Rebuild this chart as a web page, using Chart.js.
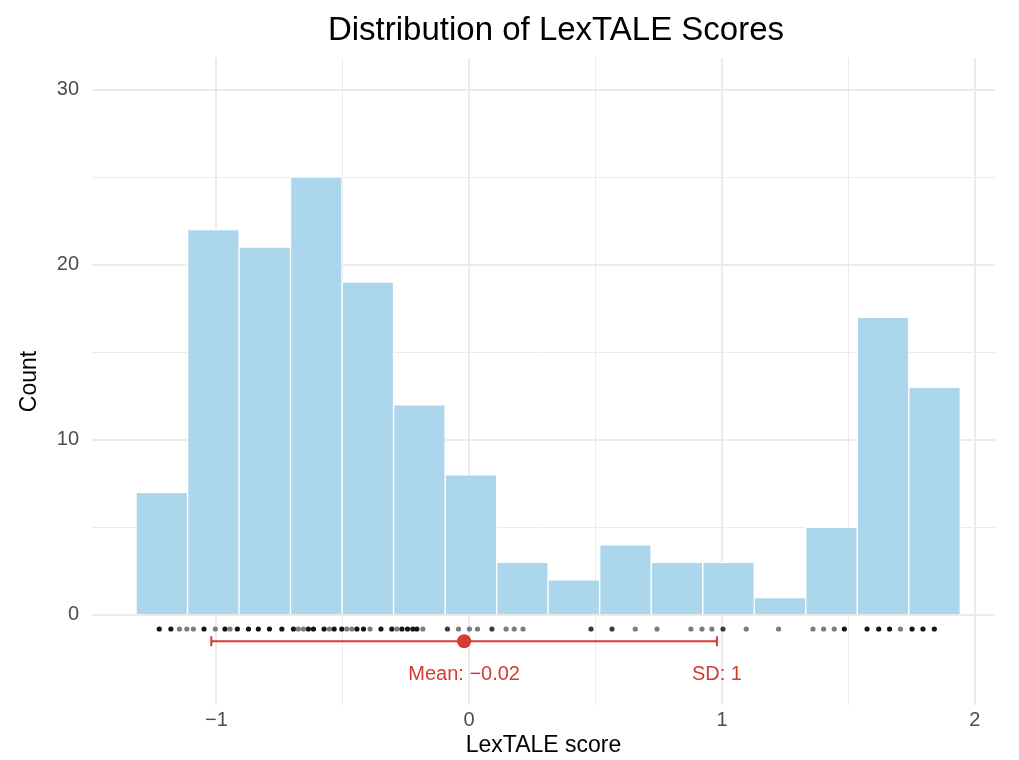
<!DOCTYPE html>
<html>
<head>
<meta charset="utf-8">
<title>Distribution of LexTALE Scores</title>
<script src="https://cdn.jsdelivr.net/npm/chart.js@4"></script>
<style>
  html, body { margin: 0; padding: 0; background: #ffffff; }
  #wrap { width: 1019px; height: 760px; }
</style>
</head>
<body>
<div id="wrap"><canvas id="chart" width="1019" height="760"></canvas></div>
<script>
// Histogram bin edges (standardised LexTALE score) and counts per bin
const binEdges = [-1.318, -1.114, -0.910, -0.707, -0.503, -0.299, -0.095, 0.109, 0.312,
                  0.516, 0.720, 0.924, 1.128, 1.331, 1.535, 1.739, 1.943];
const binCounts = [7, 22, 21, 25, 19, 12, 8, 3, 2, 4, 3, 3, 1, 5, 17, 13];

// Rug: distinct observed scores and how many participants share each score
const rugX = [-1.226, -1.180, -1.146, -1.117, -1.091, -1.049, -1.004, -0.966, -0.946, -0.917,
              -0.873, -0.834, -0.790, -0.741, -0.695, -0.676, -0.656, -0.636, -0.616, -0.574,
              -0.553, -0.534, -0.504, -0.484, -0.464, -0.444, -0.418, -0.392, -0.349, -0.306,
              -0.286, -0.266, -0.244, -0.223, -0.207, -0.183, -0.086, -0.042, 0.001, 0.033,
              0.090, 0.146, 0.178, 0.213, 0.482, 0.565, 0.657, 0.743, 0.877, 0.921,
              0.960, 1.004, 1.096, 1.224, 1.360, 1.402, 1.444, 1.484, 1.574, 1.620,
              1.663, 1.706, 1.752, 1.795, 1.840];
const rugN = [3, 3, 1, 1, 1, 3, 1, 3, 1, 3,
              3, 3, 3, 3, 3, 1, 1, 3, 3, 3,
              1, 3, 3, 1, 1, 3, 3, 1, 3, 3,
              1, 3, 3, 3, 3, 1, 2, 1, 1, 1,
              2, 1, 1, 1, 2, 2, 1, 1, 1, 1,
              1, 2, 1, 1, 1, 1, 1, 3, 3, 3,
              3, 1, 3, 3, 3];

// Summary statistics
const meanScore = -0.02;
const sdScore = 1.00;

// Axis ticks (major every 1 / 10, minor halfway)
const xTicks = [-1, -0.5, 0, 0.5, 1, 1.5, 2];
const yTicks = [0, 5, 10, 15, 20, 25, 30];

// Rows (in count units) for the rug, the mean/SD bar and its labels
const rugRow = -0.8;
const statRow = -1.5;
const labelRow = -3.4;

const RED = '#d43b31';
const TEXT = '#4d4d4d';
const FONT = "'Liberation Sans', Arial, Helvetica, sans-serif";

const fmt = v => String(v).replace('-', '\u2212');

const barData = binCounts.map((c, i) => ({ x: (binEdges[i] + binEdges[i + 1]) / 2, y: c }));
const rugData = rugX.map(x => ({ x: x, y: rugRow }));

const statLabels = {
  id: 'statLabels',
  afterDatasetsDraw(chart) {
    const { ctx, scales } = chart;
    const yPix = scales.y.getPixelForValue(labelRow);
    ctx.save();
    ctx.fillStyle = RED;
    ctx.font = "20px " + FONT;
    ctx.textAlign = 'center';
    ctx.textBaseline = 'middle';
    ctx.fillText('Mean: ' + fmt(meanScore.toFixed(2)), scales.x.getPixelForValue(meanScore), yPix);
    ctx.fillText('SD: ' + fmt(Math.round(sdScore)), scales.x.getPixelForValue(meanScore + sdScore), yPix);
    ctx.restore();
  }
};

const plotTitle = {
  id: 'plotTitle',
  afterDraw(chart) {
    const { ctx } = chart;
    ctx.save();
    ctx.fillStyle = '#000000';
    ctx.font = "33px " + FONT;
    ctx.textAlign = 'center';
    ctx.textBaseline = 'middle';
    ctx.fillText('Distribution of LexTALE Scores', 556, 31);
    ctx.restore();
  }
};

new Chart(document.getElementById('chart'), {
  type: 'bar',
  data: {
    datasets: [
      {
        type: 'scatter',
        label: 'Mean',
        data: [{ x: meanScore, y: statRow }],
        pointRadius: 7,
        pointBackgroundColor: RED,
        pointBorderColor: RED,
        pointBorderWidth: 0,
        order: 1
      },
      {
        type: 'line',
        label: 'SD',
        data: [{ x: meanScore - sdScore, y: statRow }, { x: meanScore + sdScore, y: statRow }],
        borderColor: RED,
        borderWidth: 2,
        pointStyle: 'line',
        pointRotation: 90,
        pointRadius: 5,
        pointBorderColor: RED,
        pointBorderWidth: 2,
        fill: false,
        order: 2
      },
      {
        type: 'scatter',
        label: 'Scores',
        data: rugData,
        pointRadius: 2.6,
        pointBorderWidth: 0,
        pointBackgroundColor: ctx => {
          const n = rugN[ctx.dataIndex];
          return n >= 3 ? '#141414' : (n === 2 ? '#3a3a3a' : '#7c7c7c');
        },
        order: 3
      },
      {
        type: 'bar',
        label: 'Count',
        data: barData,
        backgroundColor: '#acd6ec',
        borderColor: '#ffffff',
        borderWidth: 1,
        borderSkipped: 'start',
        barPercentage: 1,
        categoryPercentage: 1,
        order: 4
      }
    ]
  },
  options: {
    responsive: false,
    animation: false,
    layout: { padding: { left: 10, top: 58, right: 24, bottom: 0 } },
    plugins: {
      legend: { display: false },
      tooltip: { enabled: false },
      title: { display: false }
    },
    scales: {
      x: {
        type: 'linear',
        min: -1.492,
        max: 2.08,
        offset: false,
        afterFit: s => { s.height = 55; },
        afterBuildTicks: s => { s.ticks = xTicks.map(v => ({ value: v })); },
        border: { display: false },
        grid: {
          offset: false,
          drawTicks: false,
          color: '#ebebeb',
          lineWidth: c => (c.tick && Number.isInteger(c.tick.value)) ? 2 : 1
        },
        ticks: {
          autoSkip: false,
          maxRotation: 0,
          padding: 3,
          color: TEXT,
          font: { family: FONT, size: 20 },
          callback: v => Number.isInteger(v) ? fmt(v) : ''
        },
        title: {
          display: true,
          text: 'LexTALE score',
          color: '#000000',
          font: { family: FONT, size: 23 },
          padding: { top: 0, bottom: 1 }
        }
      },
      y: {
        type: 'linear',
        min: -5.14,
        max: 31.8,
        afterFit: s => { s.width = 82; },
        afterBuildTicks: s => { s.ticks = yTicks.map(v => ({ value: v })); },
        border: { display: false },
        grid: {
          drawTicks: false,
          color: '#ebebeb',
          lineWidth: c => (c.tick && c.tick.value % 10 === 0) ? 2 : 1
        },
        ticks: {
          autoSkip: false,
          padding: 13,
          color: TEXT,
          font: { family: FONT, size: 20 },
          callback: v => (v % 10 === 0) ? String(v) : ''
        },
        title: {
          display: true,
          text: 'Count',
          color: '#000000',
          font: { family: FONT, size: 23 },
          padding: { top: 6, bottom: 0 }
        }
      }
    }
  },
  plugins: [statLabels, plotTitle]
});
</script>
</body>
</html>
